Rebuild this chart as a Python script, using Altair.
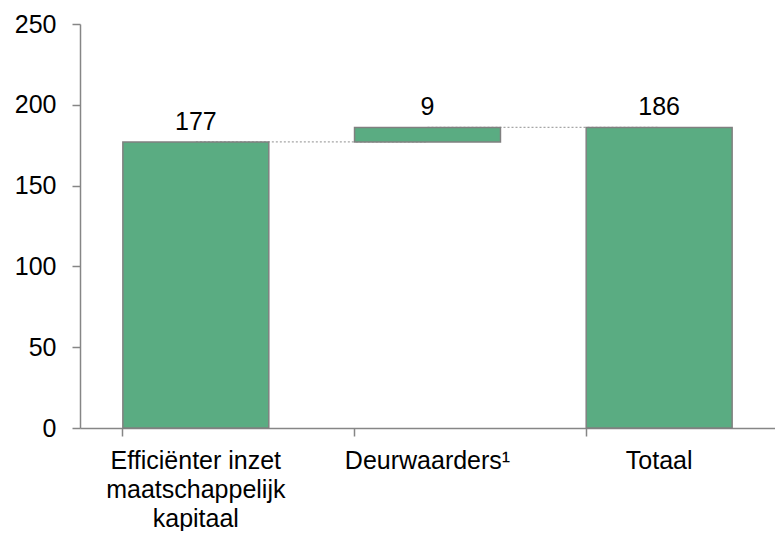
import altair as alt
import pandas as pd

categories = ["Efficiënter inzet maatschappelijk kapitaal", "Deurwaarders¹", "Totaal"]
values = [177, 9, 186]
bases = [0, 177, 0]
labels = ["177", "9", "186"]

df = pd.DataFrame({
    "cat": categories,
    "start": bases,
    "end": [b + v for b, v in zip(bases, values)],
    "label": labels,
})

conn = pd.DataFrame({
    "from": categories[:-1],
    "to": categories[1:],
    "y": [177, 186],
})

FONT = "Liberation Sans"
label_expr = (
    "datum.value == 'Efficiënter inzet maatschappelijk kapitaal' ? "
    "['Efficiënter inzet', 'maatschappelijk', 'kapitaal'] : datum.value"
)

x_scale = alt.Scale(domain=categories, paddingInner=0.37, paddingOuter=0.185)
y_scale = alt.Scale(domain=[0, 250])

x_axis = alt.Axis(
    title=None, labelAngle=0, labelExpr=label_expr, labelFont=FONT, labelFontSize=25,
    labelColor="black", labelLineHeight=29, labelPadding=12, tickSize=8,
    domainColor="#868686", tickColor="#868686", domainWidth=1.5, tickWidth=1.5,
    bandPosition=0, labelBaseline="top",
)
y_axis = alt.Axis(
    title=None, values=[0, 50, 100, 150, 200, 250], grid=False, labelFont=FONT,
    labelFontSize=25, labelColor="black", labelPadding=16, tickSize=8,
    domainColor="#868686", tickColor="#868686", domainWidth=1.5, tickWidth=1.5,
)

rules = alt.Chart(conn).mark_rule(color="#a6a6a6", strokeDash=[2, 2], strokeWidth=1.2).encode(
    x=alt.X("from:N", scale=x_scale, axis=x_axis, sort=categories),
    x2="to:N",
    y=alt.Y("y:Q", scale=y_scale, axis=y_axis),
)

bars = alt.Chart(df).mark_bar(color="#5aac82", stroke="#808080", strokeWidth=1.5).encode(
    x=alt.X("cat:N", scale=x_scale, axis=x_axis, sort=categories),
    y=alt.Y("start:Q", scale=y_scale, axis=y_axis),
    y2="end:Q",
)

texts = alt.Chart(df).mark_text(font=FONT, fontSize=25, color="black", baseline="alphabetic", dy=-12).encode(
    x=alt.X("cat:N", scale=x_scale, axis=x_axis, sort=categories),
    y=alt.Y("end:Q", scale=y_scale, axis=y_axis),
    text="label:N",
)

chart = alt.layer(rules, bars, texts).properties(
    width=767, height=523,
    autosize=alt.AutoSizeParams(type="fit", contains="padding"),
    padding={"left": 6, "top": 4, "right": 0, "bottom": 0},
).configure_view(stroke=None)

chart.save("out.html", embed_options={"renderer": "svg", "actions": False})
